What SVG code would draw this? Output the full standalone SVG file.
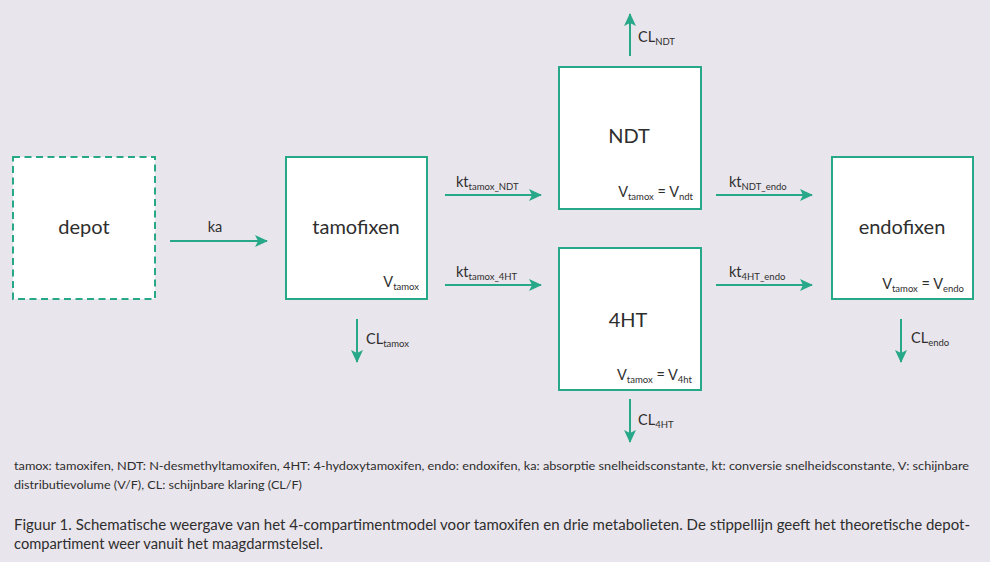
<svg xmlns="http://www.w3.org/2000/svg" width="990" height="562" viewBox="0 0 990 562">
<defs>
<marker id="ah" markerWidth="14" markerHeight="12" refX="12" refY="6" orient="auto" markerUnits="userSpaceOnUse">
<path d="M0,0 L13,6 L0,12 L3,6 Z" fill="#27a889"/>
</marker>
<style>
.box{fill:#fff;stroke:#27a889;stroke-width:2}
.dash{stroke-dasharray:7 4.5}
.con{stroke:#27a889;stroke-width:2;fill:none;marker-end:url(#ah)}
text{font-family:Lato,"Noto Sans","Liberation Sans",sans-serif;fill:#2e2e2e}
.main{font-size:20px;text-anchor:middle}
.lab{font-size:14.5px}
.sub{font-size:9.5px}
.foot{font-size:11.6px}
.cap{font-size:14.6px}
</style>
</defs>
<rect width="990" height="562" fill="#e9e5ec"/>
<g id="connectors">
<line class="con" x1="170" y1="241" x2="267" y2="241"/>
<line class="con" x1="445" y1="195" x2="541" y2="195"/>
<line class="con" x1="445" y1="285" x2="541" y2="285"/>
<line class="con" x1="716" y1="195" x2="812" y2="195"/>
<line class="con" x1="716" y1="285" x2="812" y2="285"/>
<line class="con" x1="357" y1="319" x2="357" y2="362"/>
<line class="con" x1="630" y1="56" x2="630" y2="14"/>
<line class="con" x1="630" y1="399" x2="630" y2="442"/>
<line class="con" x1="901" y1="319" x2="901" y2="362"/>
<text class="lab" x="215" y="232" text-anchor="middle">ka</text>
<text class="lab" x="456" y="187">kt<tspan class="sub" dy="3">tamox_NDT</tspan></text>
<text class="lab" x="456" y="277">kt<tspan class="sub" dy="3">tamox_4HT</tspan></text>
<text class="lab" x="729" y="187">kt<tspan class="sub" dy="3">NDT_endo</tspan></text>
<text class="lab" x="729" y="277">kt<tspan class="sub" dy="3">4HT_endo</tspan></text>
<text class="lab" x="366" y="344">CL<tspan class="sub" dy="3">tamox</tspan></text>
<text class="lab" x="638" y="42">CL<tspan class="sub" dy="3">NDT</tspan></text>
<text class="lab" x="638" y="425">CL<tspan class="sub" dy="3">4HT</tspan></text>
<text class="lab" x="911" y="343">CL<tspan class="sub" dy="3">endo</tspan></text>
</g>
<g id="depot">
<rect class="box dash" x="13" y="157" width="142" height="142"/>
<text class="main" x="84" y="234">depot</text>
</g>
<g id="tamofixen">
<rect class="box" x="286" y="157" width="141" height="142"/>
<text class="main" x="356" y="234">tamofixen</text>
<text class="lab" x="419" y="287" text-anchor="end">V<tspan class="sub" dy="3">tamox</tspan></text>
</g>
<g id="NDT">
<rect class="box" x="559" y="67" width="142" height="142"/>
<text class="main" x="629" y="143">NDT</text>
<text class="lab" x="693" y="197" text-anchor="end">V<tspan class="sub" dy="3">tamox</tspan><tspan dy="-3"> = V</tspan><tspan class="sub" dy="3">ndt</tspan></text>
</g>
<g id="HT4">
<rect class="box" x="559" y="248" width="142" height="142"/>
<text class="main" x="628" y="327">4HT</text>
<text class="lab" x="692" y="380" text-anchor="end">V<tspan class="sub" dy="3">tamox</tspan><tspan dy="-3"> = V</tspan><tspan class="sub" dy="3">4ht</tspan></text>
</g>
<g id="endofixen">
<rect class="box" x="832" y="157" width="141" height="142"/>
<text class="main" x="902" y="234">endofixen</text>
<text class="lab" x="964" y="289" text-anchor="end">V<tspan class="sub" dy="3">tamox</tspan><tspan dy="-3"> = V</tspan><tspan class="sub" dy="3">endo</tspan></text>
</g>
<g id="legend">
<text class="foot" x="14" y="470" textLength="955" lengthAdjust="spacingAndGlyphs">tamox: tamoxifen, NDT: N-desmethyltamoxifen, 4HT: 4-hydoxytamoxifen, endo: endoxifen, ka: absorptie snelheidsconstante, kt: conversie snelheidsconstante, V: schijnbare</text>
<text class="foot" x="14" y="489" textLength="288" lengthAdjust="spacingAndGlyphs">distributievolume (V/F), CL: schijnbare klaring (CL/F)</text>
<text class="cap" x="14" y="530" textLength="956" lengthAdjust="spacingAndGlyphs">Figuur 1. Schematische weergave van het 4-compartimentmodel voor tamoxifen en drie metabolieten. De stippellijn geeft het theoretische depot-</text>
<text class="cap" x="14" y="549" textLength="309" lengthAdjust="spacingAndGlyphs">compartiment weer vanuit het maagdarmstelsel.</text>
</g>
</svg>
